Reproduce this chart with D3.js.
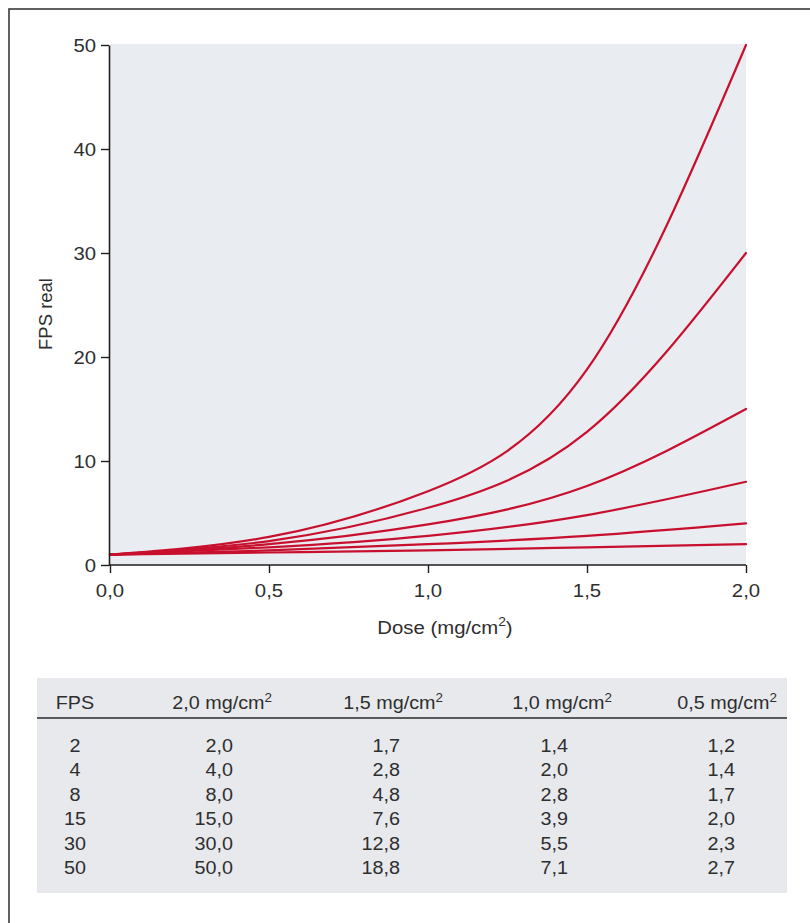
<!DOCTYPE html>
<html>
<head>
<meta charset="utf-8">
<script src="https://cdn.jsdelivr.net/npm/d3@7/dist/d3.min.js"></script>
<style>
  html, body { margin: 0; padding: 0; background: #ffffff; }
  svg { display: block; }
  text { font-family: "Liberation Sans", Arial, Helvetica, sans-serif; fill: #2e2e2e; }
</style>
</head>
<body>
<svg id="chart" width="810" height="923"></svg>
<script>
// Effective frame rate (FPS real) versus applied dose, per nominal FPS.
const doses = [0, 0.5, 1.0, 1.5, 2.0];
const fpsLevels = [2, 4, 8, 15, 30, 50];
const realAt00 = [1.0, 1.0, 1.0, 1.0, 1.0, 1.0];
const realAt05 = [1.2, 1.4, 1.7, 2.0, 2.3, 2.7];
const realAt10 = [1.4, 2.0, 2.8, 3.9, 5.5, 7.1];
const realAt15 = [1.7, 2.8, 4.8, 7.6, 12.8, 18.8];
const realAt20 = [2.0, 4.0, 8.0, 15.0, 30.0, 50.0];

const xTicks = [0, 0.5, 1.0, 1.5, 2.0];
const yTicks = [0, 10, 20, 30, 40, 50];

// Table columns, in printed order (highest dose first)
const tableHeads = ["2,0", "1,5", "1,0", "0,5"];
const tableCols = [realAt20, realAt15, realAt10, realAt05];

const comma = d3.formatLocale({ decimal: ",", thousands: ".", grouping: [3], currency: ["", ""] });
const f1 = comma.format(".1f");

const svg = d3.select("#chart");
const SX = 1.13; // horizontal stretch of the printed type

// Text helper: anchored at (x, y), stretched horizontally
function label(parent, x, y, str, anchor, size) {
  const g = parent.append("g").attr("transform", `translate(${x},${y}) scale(${SX},1)`);
  return g.append("text")
    .attr("text-anchor", anchor)
    .attr("font-size", size)
    .text(str);
}
// Unit with superscript 2: "<prefix>mg/cm²<suffix>"
function unitLabel(parent, x, y, prefix, suffix, anchor, size) {
  const g = parent.append("g").attr("transform", `translate(${x},${y}) scale(${SX},1)`);
  const t = g.append("text").attr("text-anchor", anchor).attr("font-size", size);
  t.append("tspan").text(prefix + "mg/cm");
  t.append("tspan").attr("font-size", size * 0.68).attr("dy", -size * 0.42).text("2");
  if (suffix) t.append("tspan").attr("dy", size * 0.42).text(suffix);
  return t;
}

// Page frame
svg.append("rect")
  .attr("x", 9).attr("y", 9).attr("width", 900).attr("height", 1000)
  .attr("fill", "none").attr("stroke", "#3a3a3a").attr("stroke-width", 1.6);

// Chart
const plot = { left: 110, right: 746, top: 45, bottom: 565 };
const x = d3.scaleLinear().domain([0, 2]).range([plot.left, plot.right]);
const y = d3.scaleLinear().domain([0, 50]).range([plot.bottom, plot.top]);

svg.append("rect")
  .attr("x", plot.left).attr("y", plot.top - 1)
  .attr("width", plot.right - plot.left).attr("height", plot.bottom - plot.top + 1)
  .attr("fill", "#e9ecf1");

// Curves
const byDose = [realAt00, realAt05, realAt10, realAt15, realAt20];
const series = fpsLevels.map((fps, i) => doses.map((d, j) => ({ dose: d, real: byDose[j][i] })));

const line = d3.line()
  .x(d => x(d.dose))
  .y(d => y(d.real))
  .curve(d3.curveNatural);

svg.append("g").selectAll("path")
  .data(series)
  .join("path")
  .attr("d", line)
  .attr("fill", "none")
  .attr("stroke", "#c8102e")
  .attr("stroke-width", 2.2)
  .attr("stroke-linecap", "round");

// Axes
const axisColor = "#1e1e1e";
const yAxis = svg.append("g")
  .attr("transform", `translate(${plot.left - 1},0)`)
  .call(d3.axisLeft(y).tickValues(yTicks).tickSize(8).tickSizeOuter(0).tickFormat(""));
const xAxis = svg.append("g")
  .attr("transform", `translate(0,${plot.bottom})`)
  .call(d3.axisBottom(x).tickValues(xTicks).tickSize(8).tickSizeOuter(0).tickFormat(""));
[yAxis, xAxis].forEach(a => {
  a.select(".domain").attr("stroke", axisColor).attr("stroke-width", 1.6);
  a.selectAll(".tick line").attr("stroke", axisColor).attr("stroke-width", 1.4);
});
xAxis.select(".domain").attr("d", `M${plot.left - 1},0H${plot.right}`);

// Tick labels
yTicks.forEach(v => label(svg, 96, y(v) + 6.5, String(v), "end", 18));
xTicks.forEach(v => label(svg, x(v), 597, f1(v), "middle", 18));

// Axis titles
svg.append("text")
  .attr("transform", `translate(52,314) rotate(-90)`)
  .attr("text-anchor", "middle")
  .attr("font-size", 18.5)
  .text("FPS real");
unitLabel(svg, 445, 634, "Dose (", ")", "middle", 18);

// Table
const table = svg.append("g");
table.append("rect")
  .attr("x", 37).attr("y", 678).attr("width", 750).attr("height", 215)
  .attr("fill", "#e7e9ed");
table.append("line")
  .attr("x1", 37).attr("x2", 787).attr("y1", 718).attr("y2", 718)
  .attr("stroke", "#2a2a2a").attr("stroke-width", 1.5);

const headY = 709;
const rowY0 = 752, rowStep = 24.4;
const fpsX = 75;
const headEnds = [272, 443, 612, 777];
const valueEnds = [233, 400, 568, 735];

label(table, fpsX, headY, "FPS", "middle", 17.5);
tableHeads.forEach((h, c) => unitLabel(table, headEnds[c], headY, h + " ", "", "end", 17.5));

fpsLevels.forEach((fps, r) => {
  const yy = rowY0 + r * rowStep;
  label(table, fpsX, yy, String(fps), "middle", 17.5);
  tableCols.forEach((col, c) => label(table, valueEnds[c], yy, f1(col[r]), "end", 17.5));
});
</script>
</body>
</html>
